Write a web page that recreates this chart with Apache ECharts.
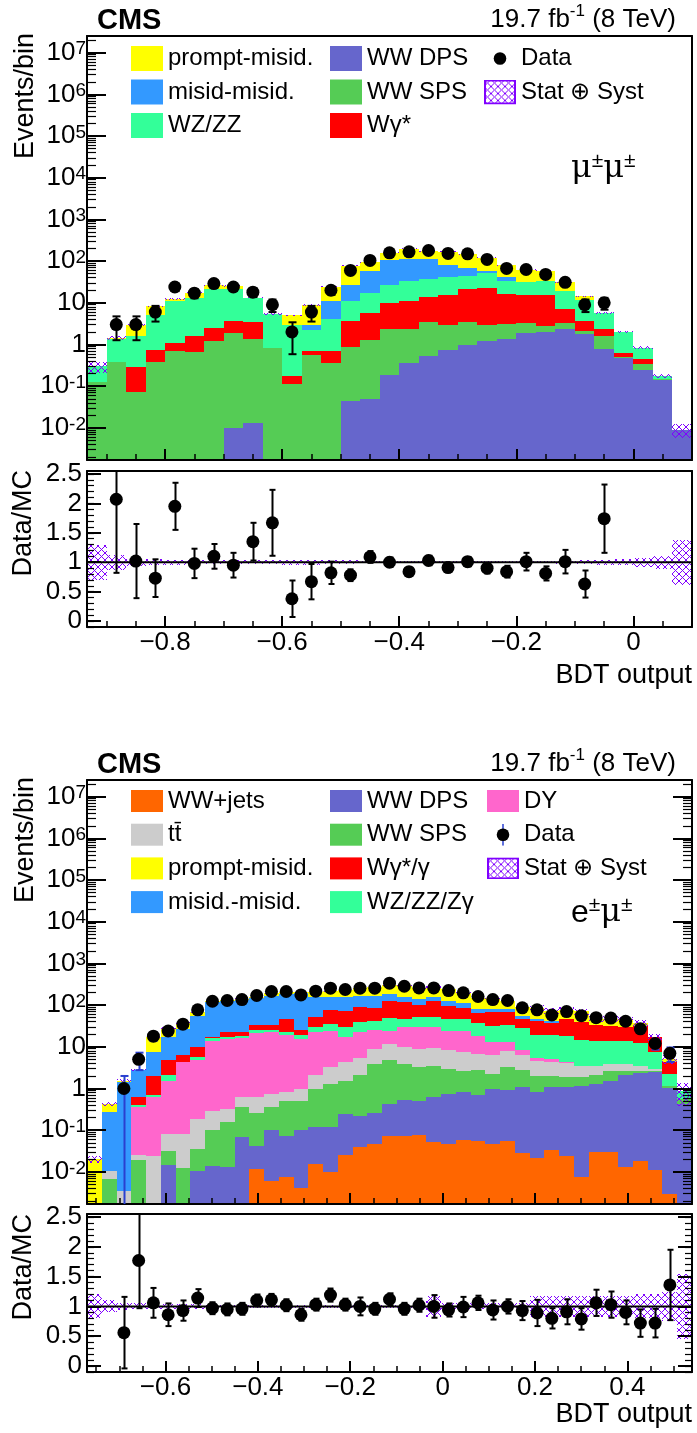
<!DOCTYPE html>
<html>
<head>
<meta charset="utf-8">
<title>BDT output</title>
<script src="https://cdn.jsdelivr.net/npm/echarts@6.0.0/dist/echarts.min.js"></script>
<style>
html,body{margin:0;padding:0;background:#fff;}
#chart{width:697px;height:1433px;}
</style>
</head>
<body>
<div id="chart"></div>
<script>
// ================= μ±μ± panel data (31 bins) =================
const muXRange = [-0.9333, 0.1];
const muNBins = 31;
const muWWDPS  = [0,0,0,0,0,0,0,0.01,0.013,0,0,0,0,0.045,0.048,0.19,0.36,0.54,0.72,0.96,1.2,1.37,1.84,2.0,2.4,1.74,0.76,0.48,0.24,0.14,0.009];
const muWWSPS  = [0.126,0.384,0.072,0.384,0.69,0.67,1.2,1.89,1.36,0.83,0.11,0.55,0.36,0.815,1.27,2.11,2.04,2.96,2.14,2.54,1.8,1.73,1.36,0.75,0.8,0.36,0.82,0.03,0.11,0.005,0];
const muWgs    = [0,0,0.214,0.336,0.37,0.97,1.3,1.73,2.03,0,0.064,0.14,0.33,2.74,4.43,7.7,8.6,10.2,12.4,17.5,20,13.3,11.8,12.25,4.1,1.5,0.72,0.12,0.11,0,0];
const muWZZZ   = [0.174,1.0,1.29,4.25,9.9,11.1,18.5,18.1,9.3,4.42,2.83,1.51,3.5,7.4,11.65,17.5,22,24,26.7,24,27.6,17.6,16,18,11.7,8.4,3.4,1.37,0.37,0.035,0];
const muMisid  = [0,0,0,0,0,0,0,0,0,0,0,0.66,6.8,16.5,40.1,76.5,81,72.3,41,22,6.9,7,0,0,0,0,0,0,0,0,0];
const muPrompt = [0,0.07,1.32,3.2,1.3,4.6,5.4,3.6,0.6,0.15,2.0,6.1,13.4,50.5,38.5,54,85,65,85,82,64.5,38.6,31.4,26,12,2.3,0,0,0,0,0];
const muData   = [null,3,3,6,24,17,29,24,18,9,2,6,20,60,104,158,167,180,153,150,110,67,63,48,31,9,10,null,null,null,null];
const muRatio  = [null,2.07,1.02,0.73,1.95,0.98,1.1,0.95,1.35,1.67,0.38,0.67,0.82,0.78,1.09,1.0,0.84,1.03,0.91,1.01,0.9,0.84,1.01,0.81,1.01,0.63,1.74,null,null,null,null];
const muRatioErr = [null,1.25,0.63,0.32,0.4,0.25,0.21,0.21,0.32,0.56,0.31,0.3,0.19,0.1,0.1,0.08,0.07,0.08,0.07,0.08,0.09,0.1,0.15,0.12,0.2,0.23,0.58,null,null,null,null];
const muUnc    = [0.3,0.13,0.06,0.05,0.04,0.03,0.03,0.03,0.03,0.03,0.04,0.04,0.03,0.03,0.02,0.02,0.02,0.02,0.02,0.02,0.02,0.02,0.02,0.02,0.025,0.03,0.04,0.05,0.08,0.11,0.38];

// ================= e±μ± panel data (41 bins) =================
const emXRange = [-0.77, 0.54];
const emNBins = 41;
const emWWjets = [0,0,0,0,0,0,0,0,0,0,0,0.0117,0.0059,0.0077,0.004,0.0155,0.0098,0.026,0.039,0.047,0.074,0.074,0.078,0.051,0.047,0.058,0.056,0.047,0.056,0.028,0.021,0.0336,0.024,0.0077,0.0295,0.0295,0.0129,0.0186,0.0111,0.003,0];
const emWWDPS  = [0,0,0,0,0,0.0149,0,0.0107,0.0141,0.0129,0.068,0.031,0.097,0.063,0.099,0.1015,0.107,0.219,0.185,0.208,0.356,0.456,0.412,0.569,0.693,0.752,0.624,0.933,0.864,1.04,0.79,1.036,1.046,1.16,1.26,1.52,2.15,2.3,2.45,1.027,0.43];
const emWWSPS  = [0,0.0068,0,0.0193,0,0.016,0.0124,0.024,0.087,0.142,0.287,0.212,0.252,0.44,0.407,0.883,1.17,1.305,1.94,3.64,4.27,3.37,2.87,2.93,2.21,1.89,2.12,1.26,2.32,1.73,1.23,0.9,0.86,0.76,0.87,1.15,0.54,0.38,0.24,0.14,0.13];
const emTT     = [0,0.0039,0.0035,0.0067,0.0246,0.05,0.067,0.151,0.194,0.165,0.265,0.365,0.385,0.3,0.49,1.16,1.95,2.72,3.14,5.0,7.0,5.9,5.54,5.85,5.45,5.0,4.0,4.26,4.86,3.7,2.46,2.3,2.11,1.62,1.39,1.2,1.2,0.85,0.25,0,0];
const emDY     = [0,0,0,0.344,0.595,1.47,4.19,4.66,13.8,15.2,15.4,21.4,21.7,18.9,14.5,21.0,21.3,13.3,17.1,16.6,12.8,19.7,20.6,20.1,16.1,16.8,11.8,6.4,4.8,1.9,0.8,0.83,0.23,0,0,0,0,0,0,0,0];
const emWZ     = [0,0,0,0.03,0.09,0.55,0.13,0.95,2.3,1.5,2.6,3.5,3.1,2.7,4.2,7.4,11,13,16.5,17.2,24.5,17.3,23.5,21.5,22.3,22.3,18.2,19.5,21.3,20,14.4,14.6,14.3,11.2,10.5,10.2,10.2,8.65,4.45,1.07,0.3];
const emWg     = [0,0,0,0.22,1.26,2.75,1.8,4.3,1.2,5.4,4.4,8.1,8.1,24.4,5.8,22.4,42.5,43.4,50,43.3,80,70,50,73,50.9,39.2,27.2,35.2,33.4,18.4,21.3,17.1,28.2,24.2,20.1,18.3,15.4,20.2,9.6,2.03,0];
const emMisid  = [0,0.26,1.41,2.18,5.43,12.75,20.8,45.9,99.4,102.6,113,111.4,136.4,143,165,102,77,81,81,84,57,38,38,31,26.3,25,17,13.4,13.4,9.2,5.8,5.9,0,0,0,0,0,0,0,0,0];
const emPrompt = [0.02,0.16,0.14,0,9.6,10.4,10.6,11.5,11,11,6,10,21,18,15,55,59,75,85,96,114,141,113,104,114,88,71,64,48,36.5,39.7,30.3,30.2,32,12.8,15.2,16.1,5.1,0,0.88,0];
const emData   = [null,null,1,5,18,24,35,77,124,129,136,170,212,212,176,216,255,237,255,255,336,284,259,259,224,197,161,136,129,86,77,58,70,56,50,49,41,27,12,7,null];
const emRatio  = [null,null,0.56,1.77,1.06,0.86,0.93,1.14,0.97,0.95,0.96,1.1,1.11,1.02,0.86,1.03,1.19,1.03,1.0,0.96,1.12,0.96,1.02,1.0,0.94,0.99,1.06,0.94,1.0,0.93,0.89,0.8,0.91,0.79,1.06,1.03,0.9,0.72,0.72,1.36,null];
const emRatioErr = [null,null,0.6,0.8,0.25,0.19,0.17,0.15,0.1,0.1,0.1,0.1,0.1,0.1,0.1,0.1,0.11,0.1,0.15,0.1,0.1,0.1,0.11,0.19,0.11,0.17,0.12,0.16,0.12,0.16,0.22,0.17,0.21,0.18,0.22,0.22,0.2,0.23,0.24,0.59,null];
const emUnc    = [0.2,0.1,0.06,0.05,0.04,0.04,0.04,0.04,0.03,0.03,0.03,0.03,0.03,0.03,0.03,0.03,0.03,0.03,0.03,0.03,0.03,0.03,0.03,0.17,0.05,0.05,0.05,0.05,0.05,0.05,0.17,0.17,0.17,0.17,0.17,0.17,0.17,0.2,0.2,0.25,0.55];

// ================= axis ticks =================
const logRange = [-2.77, 7.40];
const logDecades = [-2,-1,0,1,2,3,4,5,6,7];
const ratioRange = [-0.1, 2.55];
const ratioTicks = [0,0.5,1,1.5,2,2.5];
const muXTicks = [-0.8,-0.6,-0.4,-0.2,0];
const emXTicks = [-0.6,-0.4,-0.2,0,0.2,0.4];

// ================= styles =================
const FONT = "'Liberation Sans', Arial, Helvetica, sans-serif";
const C = {prompt:'#ffff00', misid:'#3399ff', wz:'#33ff99', dps:'#6666cc', sps:'#55cc55', wg:'#ff0000',
           wwj:'#ff6600', tt:'#cccccc', dy:'#ff66cc', hatch:'#8000ff'};

const muLayers = [
  {name:'WW DPS', values:muWWDPS, color:C.dps},
  {name:'WW SPS', values:muWWSPS, color:C.sps},
  {name:'Wγ*', values:muWgs, color:C.wg},
  {name:'WZ/ZZ', values:muWZZZ, color:C.wz},
  {name:'misid-misid.', values:muMisid, color:C.misid},
  {name:'prompt-misid.', values:muPrompt, color:C.prompt}
];
const emLayers = [
  {name:'WW+jets', values:emWWjets, color:C.wwj},
  {name:'WW DPS', values:emWWDPS, color:C.dps},
  {name:'WW SPS', values:emWWSPS, color:C.sps},
  {name:'tt\u0304', values:emTT, color:C.tt},
  {name:'DY', values:emDY, color:C.dy},
  {name:'WZ/ZZ/Zγ', values:emWZ, color:C.wz},
  {name:'Wγ*/γ', values:emWg, color:C.wg},
  {name:'misid.-misid.', values:emMisid, color:C.misid},
  {name:'prompt-misid.', values:emPrompt, color:C.prompt}
];

// hatch pattern
function makeHatch() {
  const c = document.createElement('canvas'); c.width = 7; c.height = 7;
  const g = c.getContext('2d'); g.strokeStyle = C.hatch; g.lineWidth = 1;
  g.beginPath(); g.moveTo(0,0); g.lineTo(7,7); g.moveTo(7,0); g.lineTo(0,7); g.stroke();
  return {image:c, repeat:'repeat'};
}
const HATCH = makeHatch();

function svgIcon(svg) { return 'image://data:image/svg+xml;charset=utf-8,' + encodeURIComponent(svg); }
function hatchIcon(w,h) {
  return svgIcon(`<svg xmlns="http://www.w3.org/2000/svg" width="${w}" height="${h}"><defs><pattern id="p" width="7" height="7" patternUnits="userSpaceOnUse"><path d="M0,0L7,7M7,0L0,7" stroke="${C.hatch}" stroke-width="1"/></pattern></defs><rect x="1" y="1" width="${w-2}" height="${h-2}" fill="url(#p)" stroke="${C.hatch}" stroke-width="2"/></svg>`);
}
function dataIcon(w,h,withLine) {
  const line = withLine ? `<line x1="${w/2}" y1="0" x2="${w/2}" y2="${h}" stroke="#2a3fd0" stroke-width="1.5"/>` : '';
  return svgIcon(`<svg xmlns="http://www.w3.org/2000/svg" width="${w}" height="${h}">${line}<circle cx="${w/2}" cy="${h/2}" r="6.3" fill="#000"/></svg>`);
}

// ================= helpers =================
const grids = [], xAxes = [], yAxes = [], series = [];
const LN = v => Math.log10(v);

function ax(gi, range, position, o) {
  const a = {
    type:'value', gridIndex:gi, min:range[0], max:range[1], position:position, z:6, silent:true,
    splitLine:{show:false},
    axisPointer:{show:false},
    axisLine:{show:!!o.line, onZero:false, lineStyle:{color:'#000', width:2}},
    axisTick:{show:!!o.ticks, inside:true, length:o.tlen||1, lineStyle:{color:'#000', width:o.tw||1}},
    axisLabel:{show:false}
  };
  if (o.ticks) a.axisTick.customValues = o.ticks;
  if (o.labels) {
    a.axisLabel = {show:true, customValues:o.labels, formatter:o.fmt, margin:o.margin, color:'#000',
                   fontSize:26, fontFamily:FONT};
    if (o.rich) a.axisLabel.rich = o.rich;
  }
  return a;
}

function clampPix(v, lo, hi) { return Math.min(Math.max(v, lo), hi); }

function rectRender(useHatch) {
  return function(params, api) {
    const cs = params.coordSys;
    const p0 = api.coord([api.value(0), api.value(2)]);
    const p1 = api.coord([api.value(1), api.value(3)]);
    const xa = Math.round(p0[0]), xb = Math.round(p1[0]);
    const ya = Math.round(clampPix(p0[1], cs.y, cs.y + cs.height));
    const yb = Math.round(clampPix(p1[1], cs.y, cs.y + cs.height));
    if (ya === yb && !useHatch) return null;
    return {type:'rect', shape:{x:xa, y:Math.min(ya,yb), width:xb-xa, height:Math.max(Math.abs(ya-yb), useHatch?1:0)},
            style:{fill: useHatch ? HATCH : api.visual('color')}};
  };
}

function errRender(color, cap) {
  return function(params, api) {
    const cs = params.coordSys;
    const x = api.value(0);
    const pl = api.coord([x, api.value(1)]);
    const ph = api.coord([x, api.value(2)]);
    const X = Math.round(pl[0]) + 0.5;
    const top = cs.y, bot = cs.y + cs.height;
    const yl = clampPix(pl[1], top, bot), yh = clampPix(ph[1], top, bot);
    const st = {stroke:color, lineWidth:2};
    const ch = [{type:'line', shape:{x1:X, y1:yl, x2:X, y2:yh}, style:st}];
    if (ph[1] > top) ch.push({type:'line', shape:{x1:X-cap, y1:yh, x2:X+cap, y2:yh}, style:st});
    if (pl[1] < bot) ch.push({type:'line', shape:{x1:X-cap, y1:yl, x2:X+cap, y2:yl}, style:st});
    return {type:'group', children:ch};
  };
}

const logMinor = [];
for (let n = -3; n <= 7; n++) for (let k = 2; k <= 9; k++) {
  const v = n + Math.log10(k); if (v > logRange[0] && v < logRange[1]) logMinor.push(v);
}
const ratioMinor = [];
for (let i = -1; i <= 25; i++) ratioMinor.push(+(i*0.1).toFixed(2));

function logFmt(v) {
  const e = Math.round(v);
  if (e === 0) return '{b|1}';
  if (e === 1) return '{b|10}';
  return '{b|10}{e|' + (e < 0 ? '-' : '') + Math.abs(e) + '}';
}
const logRich = {
  b:{fontSize:26, fontFamily:FONT, color:'#000', lineHeight:26, verticalAlign:'bottom'},
  e:{fontSize:19, fontFamily:FONT, color:'#000', lineHeight:20, padding:[0,0,10,0], verticalAlign:'top'}
};
function xFmt(v) {
  if (Math.abs(v) < 1e-9) return '0';
  return String(+v.toFixed(1)).replace('-', '\u2212');
}
function rFmt(v) { return String(+v.toFixed(1)); }

function buildPanel(p) {
  const w = (p.xr[1] - p.xr[0]) / p.n;
  const edges = []; for (let i = 0; i <= p.n; i++) edges.push(p.xr[0] + i * w);
  const centers = edges.slice(0, p.n).map(e => e + w / 2);
  const xMinor = [];
  for (let i = Math.ceil(p.xr[0] / 0.05); i * 0.05 <= p.xr[1] + 1e-9; i++) xMinor.push(+(i * 0.05).toFixed(3));

  const gM = grids.push({left:87, top:p.mainTop, width:605, height:p.mainH, show:false}) - 1;
  const gR = grids.push({left:87, top:p.ratioTop, width:605, height:p.ratioH, show:false}) - 1;

  // --- main axes
  const xm = xAxes.push(ax(gM, p.xr, 'bottom', {line:true, ticks:p.xTicks, tlen:11, tw:2})) - 1;
  xAxes.push(ax(gM, p.xr, 'bottom', {ticks:xMinor, tlen:6, tw:1.5}));
  xAxes.push(ax(gM, p.xr, 'top', {line:true}));
  const ym = yAxes.push(ax(gM, logRange, 'left', {line:true, ticks:logDecades, tlen:19, tw:2,
      labels:logDecades, fmt:logFmt, rich:logRich, margin:1})) - 1;
  yAxes.push(ax(gM, logRange, 'left', {ticks:logMinor, tlen:9, tw:1.2}));
  if (p.rightTicks) {
    yAxes.push(ax(gM, logRange, 'right', {line:true, ticks:logDecades, tlen:19, tw:2}));
    yAxes.push(ax(gM, logRange, 'right', {ticks:logMinor, tlen:9, tw:1.2}));
  } else {
    yAxes.push(ax(gM, logRange, 'right', {line:true}));
  }
  // --- ratio axes
  const xr = xAxes.push(ax(gR, p.xr, 'bottom', {line:true, ticks:p.xTicks, tlen:11, tw:2,
      labels:p.xTicks, fmt:xFmt, margin:3})) - 1;
  xAxes.push(ax(gR, p.xr, 'bottom', {ticks:xMinor, tlen:6, tw:1.5}));
  xAxes.push(ax(gR, p.xr, 'top', {line:true}));
  const yr = yAxes.push(ax(gR, ratioRange, 'left', {line:true, ticks:ratioTicks, tlen:14, tw:2,
      labels:ratioTicks, fmt:rFmt, margin:5})) - 1;
  yAxes.push(ax(gR, ratioRange, 'left', {ticks:ratioMinor, tlen:7, tw:1.2}));
  if (p.rightTicks) {
    yAxes.push(ax(gR, ratioRange, 'right', {line:true, ticks:ratioTicks, tlen:14, tw:2}));
    yAxes.push(ax(gR, ratioRange, 'right', {ticks:ratioMinor, tlen:7, tw:1.2}));
  } else {
    yAxes.push(ax(gR, ratioRange, 'right', {line:true}));
  }

  // --- stacked MC
  const cum = new Array(p.n).fill(0);
  p.layers.forEach(L => {
    const d = [];
    for (let i = 0; i < p.n; i++) {
      const v = L.values[i];
      if (v > 0) {
        const lo = cum[i], hi = lo + v;
        d.push([edges[i], edges[i+1], lo > 0 ? LN(lo) : -10, LN(hi)]);
        cum[i] = hi;
      }
    }
    series.push({type:'custom', name:L.name, xAxisIndex:xm, yAxisIndex:ym, renderItem:rectRender(false),
      data:d, itemStyle:{color:L.color}, encode:{x:[0,1], y:[2,3]}, z:2, silent:true});
  });

  // --- uncertainty band (main + ratio)
  const bandM = [], bandR = [];
  for (let i = 0; i < p.n; i++) {
    if (cum[i] > 0) {
      bandM.push([edges[i], edges[i+1], LN(cum[i] * (1 - p.unc[i])), LN(cum[i] * (1 + p.unc[i]))]);
      bandR.push([edges[i], edges[i+1], 1 - p.unc[i], 1 + p.unc[i]]);
    }
  }
  series.push({type:'custom', name:'Stat ⊕ Syst', xAxisIndex:xm, yAxisIndex:ym, renderItem:rectRender(true),
    data:bandM, itemStyle:{color:C.hatch}, encode:{x:[0,1], y:[2,3]}, z:3, silent:true});
  series.push({type:'custom', name:'Stat ⊕ Syst', xAxisIndex:xr, yAxisIndex:yr, renderItem:rectRender(true),
    data:bandR, itemStyle:{color:C.hatch}, encode:{x:[0,1], y:[2,3]}, z:3, silent:true});

  // --- data (main)
  const dPts = [], dErr = [];
  for (let i = 0; i < p.n; i++) {
    const N = p.data[i];
    if (N != null) {
      dPts.push([centers[i], LN(N)]);
      const s = Math.sqrt(N);
      dErr.push([centers[i], N - s > 0 ? LN(N - s) : -10, LN(N + s)]);
    }
  }
  series.push({type:'custom', name:'Data err', xAxisIndex:xm, yAxisIndex:ym, renderItem:errRender(p.errColor, 4),
    data:dErr, encode:{x:0, y:[1,2]}, z:8, silent:true});
  series.push({type:'scatter', name:'Data', xAxisIndex:xm, yAxisIndex:ym, data:dPts, symbol:'circle',
    symbolSize:13, itemStyle:{color:'#000', opacity:1}, z:10, silent:true});

  // --- ratio
  series.push({type:'line', name:'unity', xAxisIndex:xr, yAxisIndex:yr, data:[[p.xr[0],1],[p.xr[1],1]],
    symbol:'none', lineStyle:{color:'#000', width:2}, z:7, silent:true});
  const rPts = [], rErr = [];
  for (let i = 0; i < p.n; i++) {
    const r = p.ratio[i];
    if (r != null) {
      rPts.push([centers[i], r]);
      rErr.push([centers[i], r - p.ratioErr[i], r + p.ratioErr[i]]);
    }
  }
  series.push({type:'custom', name:'Ratio err', xAxisIndex:xr, yAxisIndex:yr, renderItem:errRender('#000', 3),
    data:rErr, encode:{x:0, y:[1,2]}, z:8, silent:true});
  series.push({type:'scatter', name:'Data', xAxisIndex:xr, yAxisIndex:yr, data:rPts, symbol:'circle',
    symbolSize:13, itemStyle:{color:'#000', opacity:1}, z:10, silent:true});
}

buildPanel({xr:muXRange, n:muNBins, layers:muLayers, data:muData, ratio:muRatio, ratioErr:muRatioErr, unc:muUnc,
  mainTop:36, mainH:424, ratioTop:471, ratioH:156, xTicks:muXTicks, rightTicks:false, errColor:'#000'});
buildPanel({xr:emXRange, n:emNBins, layers:emLayers, data:emData, ratio:emRatio, ratioErr:emRatioErr, unc:emUnc,
  mainTop:780, mainH:424, ratioTop:1214, ratioH:158, xTicks:emXTicks, rightTicks:true, errColor:'#2a3fd0'});

// ================= legends =================
const legText = {fontSize:24, fontFamily:FONT, color:'#000'};
function leg(left, top, ih, gap, data) {
  return {left:left, top:top, orient:'vertical', itemWidth:32, itemHeight:ih, itemGap:gap, padding:0,
    icon:'rect', selectedMode:false, textStyle:Object.assign({lineHeight:ih}, legText),
    itemStyle:{borderWidth:0}, data:data};
}
const legends = [
  leg(131, 46, 25, 8.5, ['prompt-misid.', 'misid-misid.', 'WZ/ZZ']),
  leg(330, 46, 25, 8.5, ['WW DPS', 'WW SPS', 'Wγ*']),
  leg(484, 46, 25, 8.5, [{name:'Data', icon:dataIcon(32,25,false)}, {name:'Stat ⊕ Syst', icon:hatchIcon(32,25)}]),
  leg(131, 789, 22, 9.7, ['WW+jets', 'tt\u0304', 'prompt-misid.', 'misid.-misid.']),
  leg(330, 789, 22, 9.7, ['WW DPS', 'WW SPS', 'Wγ*/γ', 'WZ/ZZ/Zγ']),
  leg(487, 789, 22, 9.7, ['DY', {name:'Data', icon:dataIcon(32,22,true)}, {name:'Stat ⊕ Syst', icon:hatchIcon(32,22)}])
];

// ================= texts =================
function txt(x, y, text, o) {
  return Object.assign({type:'text', x:x, y:y, silent:true, z:20,
    style:Object.assign({text:text, fill:'#000', font:'26px ' + FONT, align:'left', verticalAlign:'middle'}, o.style || {})},
    o.rotation !== undefined ? {rotation:o.rotation} : {});
}
const lumiRich = {a:{fontSize:26, fontFamily:FONT, lineHeight:30, verticalAlign:'bottom'},
                  s:{fontSize:17, fontFamily:FONT, lineHeight:18, padding:[0,0,12,0], verticalAlign:'top'}};
const chanRich = {m:{fontSize:32, fontFamily:"'DejaVu Serif', 'Liberation Serif', serif", color:'#0000ff', lineHeight:34, verticalAlign:'bottom'},
                  l:{fontSize:32, fontFamily:FONT, color:'#0000ff', lineHeight:34, verticalAlign:'bottom'},
                  p:{fontSize:21, fontFamily:FONT, color:'#0000ff', lineHeight:20, padding:[0,0,14,0], verticalAlign:'top'}};
function panelTexts(dy, chan) {
  return [
    txt(97, 21 + dy, 'CMS', {style:{font:'bold 29px ' + FONT}}),
    txt(676, 18 + dy, '{a|19.7 fb}{s|-1}{a| (8 TeV)}', {style:{align:'right', rich:lumiRich}}),
    txt(571, 168 + dy, chan, {style:{rich:chanRich}}),
    txt(26, 33 + dy, 'Events/bin', {rotation:Math.PI/2, style:{font:'27px ' + FONT, align:'right'}}),
    txt(24, 470 + dy, 'Data/MC', {rotation:Math.PI/2, style:{font:'27px ' + FONT, align:'right'}}),
    txt(692, 676 + (dy ? 739 : 0), 'BDT output', {style:{font:'27px ' + FONT, align:'right'}})
  ];
}
const graphics = panelTexts(0, '{m|μ}{p|±}{m|μ}{p|±}').concat(panelTexts(744, '{l|e}{p|±}{m|μ}{p|±}'));

const chart = echarts.init(document.getElementById('chart'), null, {renderer:'canvas'});
chart.setOption({
  animation:false,
  backgroundColor:'#ffffff',
  textStyle:{fontFamily:FONT},
  grid:grids, xAxis:xAxes, yAxis:yAxes, series:series, legend:legends, graphic:graphics
});
</script>
</body>
</html>
